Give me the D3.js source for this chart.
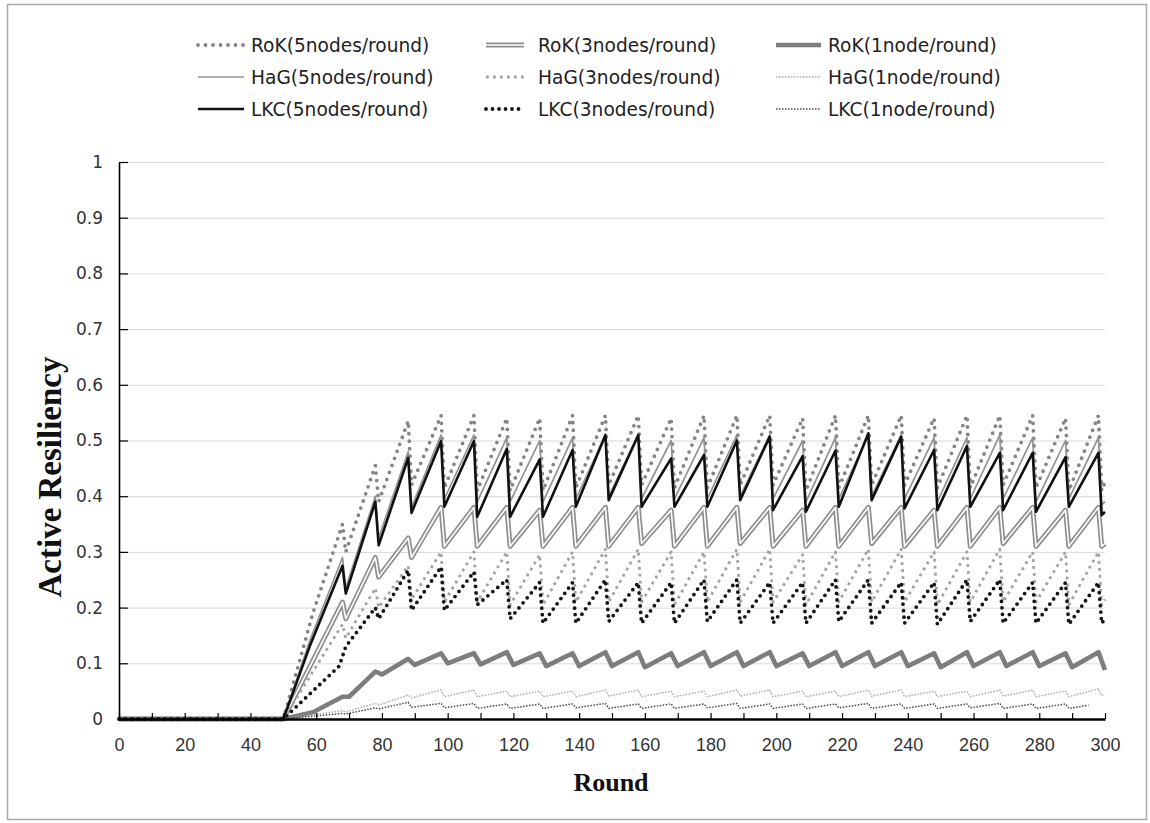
<!DOCTYPE html>
<html><head><meta charset="utf-8">
<script src="https://cdn.jsdelivr.net/npm/d3@7"></script>
<style>body{margin:0;background:#fff}svg{display:block}</style>
</head><body>
<svg id="chart" width="1150" height="823"></svg>
<script>
// ---------------- DATA ----------------
const seriesNames = ["RoK(5nodes/round)","RoK(3nodes/round)","RoK(1node/round)",
                     "HaG(5nodes/round)","HaG(3nodes/round)","HaG(1node/round)",
                     "LKC(5nodes/round)","LKC(3nodes/round)","LKC(1node/round)"];
const yTicks = [0,0.1,0.2,0.3,0.4,0.5,0.6,0.7,0.8,0.9,1];
const xTicks = [0,10,20,30,40,50,60,70,80,90,100,110,120,130,140,150,160,170,180,190,200,210,220,230,240,250,260,270,280,290,300];
const xLabels = [0,20,40,60,80,100,120,140,160,180,200,220,240,260,280,300];

// rounds at which the sawtooth peaks / drops
const peakRounds = [88,98,108,118,128,138,148,158,168,178,188,198,208,218,228,238,248,258,268,278,288,298];
const dropRounds = [89,99,109,119,129,139,149,159,169,179,189,199,209,219,229,239,249,259,269,279,289,299];
const slowDropRounds = [90,100,110,120,130,140,150,160,170,180,190,200,210,220,230,240,250,260,270,280,290,300];

// RoK(5nodes/round)
const rok5Early = [[0,0],[50,0],[59,0.19],[68,0.35],[69,0.3],[78,0.455],[79,0.39]];
const rok5Peaks = [0.535,0.545,0.545,0.54,0.54,0.545,0.545,0.545,0.54,0.545,0.545,0.545,0.54,0.545,0.545,0.545,0.54,0.545,0.545,0.545,0.54,0.545];
const rok5Troughs = [0.42,0.415,0.41,0.41,0.41,0.415,0.42,0.42,0.415,0.415,0.42,0.42,0.41,0.415,0.42,0.42,0.415,0.415,0.42,0.415,0.41,0.41];
const rok5End = [[300,0.425]];
// RoK(3nodes/round)
const rok3Early = [[0,0],[50,0],[68,0.21],[69,0.18],[78,0.29],[79,0.255]];
const rok3Peaks = [0.325,0.38,0.38,0.38,0.375,0.38,0.38,0.38,0.375,0.38,0.38,0.38,0.375,0.38,0.38,0.38,0.375,0.38,0.38,0.38,0.375,0.38];
const rok3Troughs = [0.29,0.31,0.31,0.31,0.31,0.31,0.31,0.315,0.31,0.31,0.315,0.31,0.31,0.31,0.315,0.31,0.31,0.31,0.315,0.31,0.31,0.31];
const rok3End = [[300,0.315]];
// RoK(1node/round)
const rok1Early = [[0,0],[50,0],[59,0.012],[68,0.04],[70,0.04],[78,0.085],[80,0.08]];
const rok1Peaks = [0.108,0.118,0.118,0.12,0.118,0.118,0.12,0.12,0.118,0.12,0.12,0.12,0.118,0.12,0.12,0.12,0.118,0.12,0.12,0.12,0.118,0.12];
const rok1Troughs = [0.097,0.1,0.098,0.097,0.095,0.095,0.095,0.093,0.095,0.095,0.095,0.095,0.095,0.095,0.095,0.095,0.093,0.095,0.095,0.095,0.093,0.088];
const rok1End = [];
// HaG(5nodes/round)
const hag5Early = [[0,0],[50,0],[58,0.14],[68,0.29],[69,0.235],[78,0.4],[79,0.325]];
const hag5Peaks = [0.48,0.51,0.51,0.505,0.5,0.505,0.51,0.51,0.5,0.505,0.51,0.51,0.5,0.505,0.51,0.51,0.505,0.505,0.51,0.505,0.5,0.505];
const hag5Troughs = [0.38,0.395,0.39,0.39,0.39,0.395,0.4,0.395,0.395,0.395,0.4,0.395,0.39,0.395,0.4,0.395,0.39,0.395,0.395,0.39,0.395,0.385];
const hag5End = [[300,0.39]];
// HaG(3nodes/round)
const hag3Early = [[0,0],[50,0],[68,0.17],[69,0.145],[78,0.235],[79,0.2]];
const hag3Peaks = [0.275,0.3,0.3,0.3,0.295,0.3,0.305,0.305,0.3,0.3,0.305,0.305,0.295,0.3,0.305,0.305,0.3,0.3,0.305,0.3,0.3,0.3];
const hag3Troughs = [0.215,0.21,0.21,0.205,0.205,0.21,0.21,0.21,0.205,0.21,0.21,0.21,0.205,0.21,0.21,0.21,0.205,0.21,0.21,0.21,0.205,0.205];
const hag3End = [[300,0.215]];
// HaG(1node/round)
const hag1Early = [[0,0],[50,0],[68,0.015],[69,0.013],[78,0.028],[79,0.025]];
const hag1Peaks = [0.043,0.052,0.052,0.05,0.05,0.05,0.052,0.052,0.05,0.05,0.052,0.052,0.05,0.05,0.052,0.052,0.05,0.05,0.052,0.052,0.05,0.054];
const hag1Troughs = [0.038,0.04,0.04,0.04,0.04,0.04,0.041,0.04,0.04,0.04,0.041,0.04,0.04,0.04,0.041,0.04,0.04,0.04,0.041,0.04,0.04,0.042];
const hag1End = [[300,0.044]];
// LKC(5nodes/round)
const lkc5Early = [[0,0],[50,0],[58,0.13],[68,0.275],[69,0.225],[78,0.39],[79,0.312]];
const lkc5Peaks = [0.469,0.499,0.499,0.485,0.466,0.483,0.51,0.51,0.468,0.474,0.5,0.507,0.472,0.482,0.513,0.507,0.483,0.49,0.478,0.478,0.47,0.478];
const lkc5Troughs = [0.37,0.381,0.363,0.363,0.363,0.381,0.393,0.381,0.381,0.381,0.393,0.375,0.372,0.381,0.393,0.378,0.375,0.381,0.375,0.372,0.381,0.366];
const lkc5End = [[300,0.372]];
// LKC(3nodes/round)
const lkc3Early = [[0,0],[50,0],[67,0.095],[69,0.13],[78,0.2],[79,0.18]];
const lkc3Peaks = [0.267,0.273,0.264,0.25,0.245,0.245,0.25,0.245,0.245,0.25,0.25,0.245,0.245,0.25,0.25,0.245,0.245,0.25,0.25,0.245,0.245,0.245];
const lkc3Troughs = [0.195,0.195,0.205,0.18,0.172,0.172,0.175,0.172,0.172,0.175,0.172,0.172,0.172,0.175,0.172,0.172,0.17,0.175,0.172,0.172,0.17,0.172];
const lkc3End = [[300,0.18]];
// LKC(1node/round)
const lkc1Early = [[0,0],[50,0],[68,0.01],[69,0.009],[78,0.02],[79,0.018]];
const lkc1Peaks = [0.03,0.028,0.028,0.027,0.027,0.027,0.028,0.027,0.027,0.027,0.028,0.027,0.027,0.027,0.028,0.027,0.027,0.027,0.028,0.027,0.027];
const lkc1Troughs = [0.021,0.02,0.019,0.019,0.019,0.02,0.019,0.019,0.019,0.02,0.019,0.019,0.019,0.02,0.019,0.019,0.019,0.02,0.019,0.019,0.019];
const lkc1End = [[295,0.025]];

// ---------------- BUILD ----------------
function build(early, peaks, troughs, end, drops) {
  const pts = early.slice();
  peaks.forEach((v, i) => {
    pts.push([peakRounds[i], v]);
    if (i < troughs.length) pts.push([drops[i], troughs[i]]);
  });
  return pts.concat(end);
}
const seriesData = [
  build(rok5Early, rok5Peaks, rok5Troughs, rok5End, dropRounds),
  build(rok3Early, rok3Peaks, rok3Troughs, rok3End, dropRounds),
  build(rok1Early, rok1Peaks, rok1Troughs, rok1End, slowDropRounds),
  build(hag5Early, hag5Peaks, hag5Troughs, hag5End, dropRounds),
  build(hag3Early, hag3Peaks, hag3Troughs, hag3End, dropRounds),
  build(hag1Early, hag1Peaks, hag1Troughs, hag1End, dropRounds),
  build(lkc5Early, lkc5Peaks, lkc5Troughs, lkc5End, dropRounds),
  build(lkc3Early, lkc3Peaks, lkc3Troughs, lkc3End, dropRounds),
  build(lkc1Early, lkc1Peaks, lkc1Troughs, lkc1End, dropRounds)
];

const styles = [
  {stroke:"#858585", width:3.8, dash:"0 7.5", cap:"round"},
  {stroke:"#8e8e8e", width:5, inner:"#ffffff", innerWidth:1.6},
  {stroke:"#7d7d7d", width:4.6},
  {stroke:"#929292", width:1.7},
  {stroke:"#a3a3a3", width:2.8, dash:"2.8 4.2"},
  {stroke:"#ababab", width:1.5, dash:"1.5 1.5"},
  {stroke:"#111111", width:2.6},
  {stroke:"#151515", width:3.8, dash:"0 6.5", cap:"round"},
  {stroke:"#4a4a4a", width:1.5, dash:"1.5 1.5"}
];

// ---------------- DRAW ----------------
const svg = d3.select("#chart");
const plot = {left:119, right:1105, top:162, bottom:719};

svg.append("rect").attr("x",7.5).attr("y",4.5).attr("width",1139).attr("height",815)
  .attr("fill","#fff").attr("stroke","#a9a9a9").attr("stroke-width",1.5);

const x = d3.scaleLinear().domain([0,300]).range([plot.left, plot.right]);
const y = d3.scaleLinear().domain([0,1]).range([plot.bottom, plot.top]);

// gridlines
svg.append("g").attr("transform",`translate(${plot.left},0)`)
  .call(d3.axisLeft(y).tickValues(yTicks.slice(1)).tickSize(-(plot.right-plot.left)).tickFormat(""))
  .call(g => g.select(".domain").remove())
  .call(g => g.selectAll("line").attr("stroke","#d9d9d9").attr("stroke-width",1));

// lines
const line = d3.line().x(d => x(d[0])).y(d => y(d[1]));
const lg = svg.append("g").attr("fill","none");
seriesData.forEach((pts, i) => {
  const s = styles[i];
  lg.append("path").attr("d", line(pts))
    .attr("stroke", s.stroke).attr("stroke-width", s.width)
    .attr("stroke-dasharray", s.dash || null)
    .attr("stroke-linecap", s.cap || "butt")
    .attr("stroke-linejoin","round");
  if (s.inner) {
    lg.append("path").attr("d", line(pts))
      .attr("stroke", s.inner).attr("stroke-width", s.innerWidth)
      .attr("stroke-linejoin","round");
  }
});

// y axis
svg.append("g").attr("transform",`translate(${plot.left},0)`)
  .call(d3.axisLeft(y).tickValues(yTicks).tickSize(-9).tickSizeOuter(0).tickPadding(16)
        .tickFormat(d => d3.format("")(+d.toFixed(1))))
  .call(g => g.select(".domain").attr("stroke","#000").attr("stroke-width",1.6))
  .call(g => g.selectAll("line").attr("stroke","#000").attr("stroke-width",1.2))
  .call(g => g.selectAll("text").attr("font-family","DejaVu Sans, sans-serif")
              .attr("font-size",17).attr("fill","#333"));

// x axis
svg.append("g").attr("transform",`translate(0,${plot.bottom})`)
  .call(d3.axisBottom(x).tickValues(xTicks).tickSize(-6).tickSizeOuter(0).tickPadding(19)
        .tickFormat(d => xLabels.includes(d) ? d : ""))
  .call(g => g.select(".domain").attr("stroke","#000").attr("stroke-width",2.4))
  .call(g => g.selectAll("line").attr("stroke","#000").attr("stroke-width",1.2))
  .call(g => g.selectAll("text").attr("font-family","Liberation Sans, sans-serif")
              .attr("font-size",18).attr("fill","#333"));

// axis titles
svg.append("text").attr("x",611).attr("y",791).attr("text-anchor","middle")
  .attr("font-family","Liberation Serif, serif").attr("font-weight","bold")
  .attr("font-size",26).attr("fill","#111").text("Round");
svg.append("text").attr("transform","translate(61,477) rotate(-90)").attr("text-anchor","middle")
  .attr("font-family","Liberation Serif, serif").attr("font-weight","bold")
  .attr("font-size",33).attr("fill","#111").text("Active Resiliency");

// legend (3 columns x 3 rows, row-major)
const legCols = [{x1:198, x2:244, tx:251},{x1:486, x2:524, tx:538},{x1:776, x2:821, tx:828}];
const legRows = [45, 77, 109];
const leg = svg.append("g");
seriesNames.forEach((name, i) => {
  const c = legCols[i % 3], r = legRows[Math.floor(i / 3)], s = styles[i];
  const seg = d3.line()([[c.x1, r], [c.x2, r]]);
  leg.append("path").attr("d", seg).attr("fill","none")
    .attr("stroke", s.stroke).attr("stroke-width", s.width)
    .attr("stroke-dasharray", s.dash || null).attr("stroke-linecap", s.cap || "butt");
  if (s.inner) leg.append("path").attr("d", seg).attr("stroke", s.inner).attr("stroke-width", s.innerWidth);
  leg.append("text").attr("x", c.tx).attr("y", r).attr("dy","0.35em")
    .attr("font-family","DejaVu Sans, sans-serif").attr("font-size",18.6)
    .attr("fill","#222").text(name);
});
</script>
</body></html>
